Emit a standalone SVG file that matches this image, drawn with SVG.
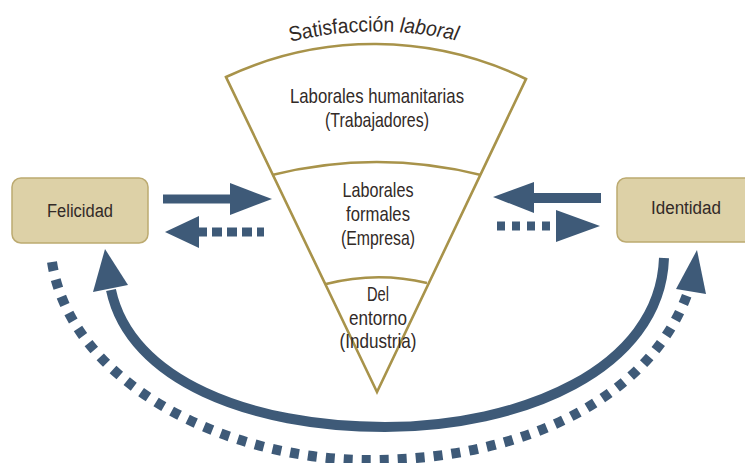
<svg xmlns="http://www.w3.org/2000/svg" width="745" height="463" viewBox="0 0 745 463">
<style>
.lbl{font-family:"Liberation Sans","DejaVu Sans",sans-serif;fill:#322a27;text-anchor:middle}
.in{font-size:21px}
.box{fill:#ddd1a7;stroke:#bcaa70;stroke-width:1.5}
.fun{fill:#fff;stroke:#a8934a;stroke-width:2.6;stroke-linejoin:miter}
.div{fill:none;stroke:#a8934a;stroke-width:2.6}
.sol{fill:none;stroke:#3e5a78;stroke-linecap:butt}
.dash{fill:none;stroke:#3e5a78;stroke-linecap:butt}
.head{fill:#3e5a78}
</style>
<defs>
<path id="titlePath" d="M 262 50 A 360 360 0 0 1 490 50"/>
</defs>
<rect width="745" height="463" fill="#fff"/>

<g id="funnel">
<path class="fun" d="M 377 392 L 226 77 A 348 348 0 0 1 526 79 Z"/>
<path class="div" d="M 272 175 Q 377 149 481 175"/>
<path class="div" d="M 326 284 Q 377 271 427 283"/>
<text class="lbl" font-size="21"><textPath href="#titlePath" startOffset="49%" textLength="168" lengthAdjust="spacingAndGlyphs">Satisfacción <tspan font-style="italic">laboral</tspan></textPath></text>
<text class="lbl in" x="377" y="103" textLength="174" lengthAdjust="spacingAndGlyphs">Laborales humanitarias</text>
<text class="lbl in" x="377" y="127" textLength="104" lengthAdjust="spacingAndGlyphs">(Trabajadores)</text>
<text class="lbl in" x="378" y="197" textLength="71" lengthAdjust="spacingAndGlyphs">Laborales</text>
<text class="lbl in" x="378" y="221" textLength="64" lengthAdjust="spacingAndGlyphs">formales</text>
<text class="lbl in" x="378" y="245" textLength="74" lengthAdjust="spacingAndGlyphs">(Empresa)</text>
<text class="lbl in" x="378" y="301" textLength="22" lengthAdjust="spacingAndGlyphs">Del</text>
<text class="lbl in" x="378" y="325" textLength="58" lengthAdjust="spacingAndGlyphs">entorno</text>
<text class="lbl in" x="378" y="348" textLength="77" lengthAdjust="spacingAndGlyphs">(Industria)</text>
</g>

<g id="felicidad">
<rect class="box" x="12" y="178" width="136" height="65" rx="9"/>
<text class="lbl" font-size="18" x="80" y="217" textLength="66" lengthAdjust="spacingAndGlyphs">Felicidad</text>
</g>

<g id="identidad">
<rect class="box" x="617" y="178" width="140" height="64" rx="9"/>
<text class="lbl" font-size="18" x="686" y="214" textLength="70" lengthAdjust="spacingAndGlyphs">Identidad</text>
</g>

<g id="connectors">
<line class="sol" x1="163" y1="199" x2="233" y2="199" stroke-width="9"/>
<polygon class="head" points="230,183 272,199 230,215"/>
<line class="dash" x1="197" y1="232" x2="264" y2="232" stroke-width="9" stroke-dasharray="10 5"/>
<polygon class="head" points="199,216 165,232 199,248"/>
<line class="sol" x1="530" y1="198" x2="601" y2="198" stroke-width="10"/>
<polygon class="head" points="534,182 493,197 534,213"/>
<line class="dash" x1="497" y1="226" x2="560" y2="226" stroke-width="9" stroke-dasharray="8 7"/>
<polygon class="head" points="556,210 600,226 556,242"/>
<path class="sol" stroke-width="10" d="M 664 258 C 660 370 520 427 385 427 C 250 427 130 380 111 290"/>
<polygon class="head" points="93,292 105,249 128,285"/>
<path class="dash" stroke-width="10" stroke-dasharray="9 9" d="M 52 262 C 70 380 220 460 370 460 C 520 460 650 400 688 292"/>
<polygon class="head" points="676,289 697,250 706,294"/>
</g>
</svg>
